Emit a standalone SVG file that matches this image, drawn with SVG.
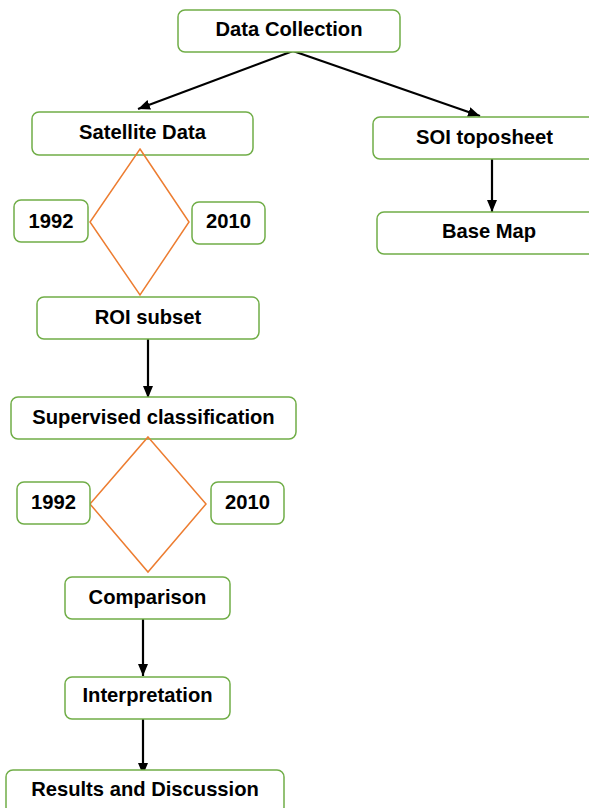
<svg xmlns="http://www.w3.org/2000/svg" width="589" height="808" viewBox="0 0 589 808">
<defs>
<style>
.box{fill:#fff;stroke:#70AD47;stroke-width:1.5}
.dia{fill:none;stroke:#ED7D31;stroke-width:1.5}
.lbl{font-family:"Liberation Sans",Arial,sans-serif;font-weight:bold;font-size:20.2px;fill:#000;text-anchor:middle}
.conn{stroke:#000;stroke-width:2.2;fill:none;marker-end:url(#ah)}
</style>
<marker id="ah" markerUnits="userSpaceOnUse" markerWidth="12" markerHeight="10" viewBox="0 0 12 10" refX="12" refY="5" orient="auto">
<path d="M0,0 L12,5 L0,10 Z" fill="#000"/>
</marker>
</defs>
<rect width="589" height="808" fill="#fff"/>
<g id="connectors">
<line class="conn" x1="293" y1="51" x2="138" y2="109"/>
<line class="conn" x1="293" y1="51" x2="480" y2="116"/>
<line class="conn" x1="492" y1="157" x2="492" y2="212"/>
<line class="conn" x1="148" y1="339" x2="148" y2="398"/>
<line class="conn" x1="143" y1="619" x2="143" y2="676"/>
<line class="conn" x1="143" y1="719" x2="143" y2="775"/>
</g>
<g id="data-collection"><rect class="box" x="178" y="10" width="222" height="42" rx="7"/><text class="lbl" x="289" y="36">Data Collection</text></g>
<g id="satellite-data"><rect class="box" x="32" y="112" width="221" height="43" rx="7"/><text class="lbl" x="142.5" y="138.5">Satellite Data</text></g>
<g id="soi-toposheet"><rect class="box" x="373" y="117" width="222" height="42" rx="7"/><text class="lbl" x="484.5" y="143.5">SOI toposheet</text></g>
<g id="base-map"><rect class="box" x="377" y="212" width="224" height="42" rx="7"/><text class="lbl" x="489" y="238">Base Map</text></g>
<g id="diamond-1"><polygon class="dia" points="140,149 189,222 140,295 90,222"/></g>
<g id="year-1992-a"><rect class="box" x="14" y="200" width="74" height="42" rx="7"/><text class="lbl" x="51" y="227.5">1992</text></g>
<g id="year-2010-a"><rect class="box" x="192" y="202" width="73" height="42" rx="7"/><text class="lbl" x="228.5" y="227.5">2010</text></g>
<g id="roi-subset"><rect class="box" x="37" y="297" width="222" height="42" rx="7"/><text class="lbl" x="148" y="323.5">ROI subset</text></g>
<g id="supervised"><rect class="box" x="11" y="397" width="285" height="42" rx="7"/><text class="lbl" x="153.5" y="423.5">Supervised classification</text></g>
<g id="diamond-2"><polygon class="dia" points="148,437 206,504 148,572 90,504"/></g>
<g id="year-1992-b"><rect class="box" x="17" y="482" width="73" height="42" rx="7"/><text class="lbl" x="53.5" y="508.5">1992</text></g>
<g id="year-2010-b"><rect class="box" x="211" y="482" width="73" height="42" rx="7"/><text class="lbl" x="247.5" y="508.5">2010</text></g>
<g id="comparison"><rect class="box" x="65" y="577" width="165" height="42" rx="7"/><text class="lbl" x="147.5" y="603.5">Comparison</text></g>
<g id="interpretation"><rect class="box" x="65" y="677" width="165" height="42" rx="7"/><text class="lbl" x="147.5" y="702">Interpretation</text></g>
<g id="results"><rect class="box" x="6" y="770" width="278" height="44" rx="7"/><text class="lbl" x="145" y="795.5">Results and Discussion</text></g>
</svg>
